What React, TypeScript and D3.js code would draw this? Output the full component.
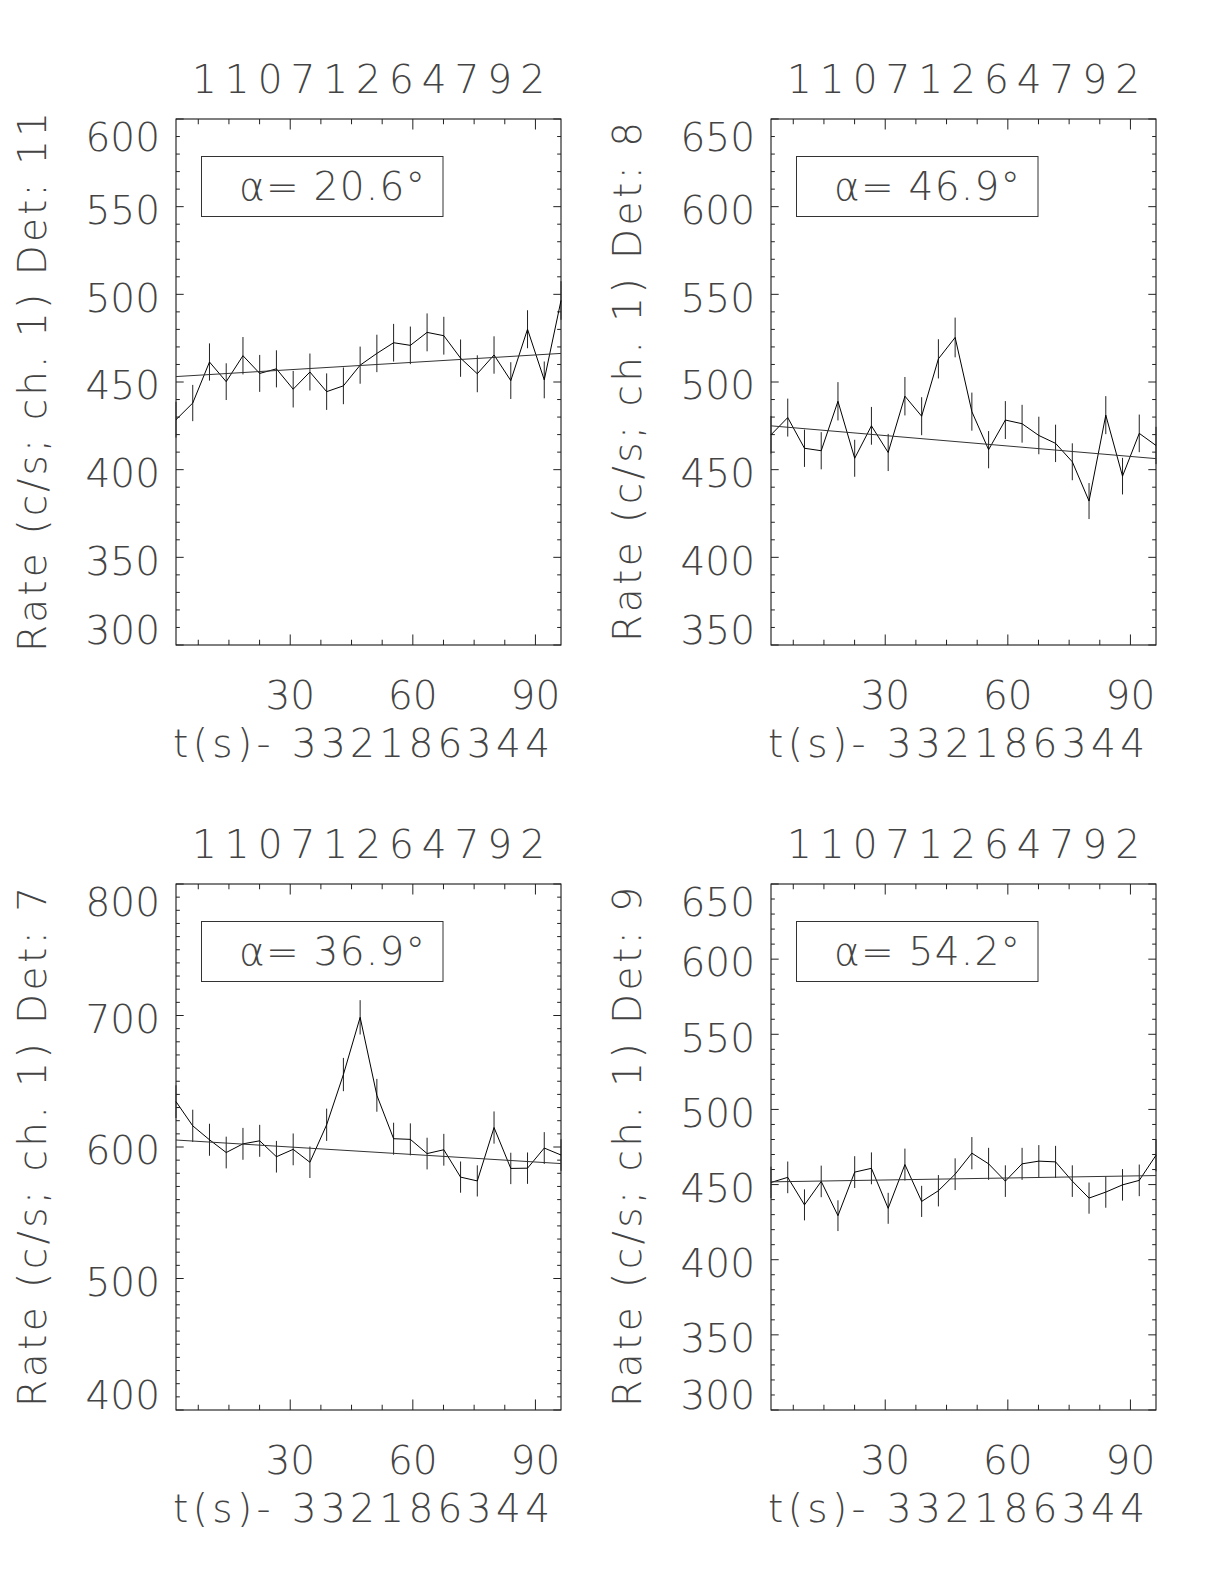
import React from "react";
import * as d3 from "d3";

// ---- data ----
const OBS_ID = "11071264792";
const T0_LABEL = "t(s)- 332186344";
const BIN_WIDTH = 4.096;

const times = [2.048, 6.144, 10.24, 14.336, 18.432, 22.528, 26.624, 30.72, 34.816, 38.912, 43.008, 47.104,
  51.2, 55.296, 59.392, 63.488, 67.584, 71.68, 75.776, 79.872, 83.968, 88.064, 92.16, 96.256];

const det11Rates = [428.5, 438, 461.4, 450.2, 465, 454.9, 457.5, 445.9, 455.7, 444.5, 447.8, 459.6,
  466.3, 472.4, 470.9, 478.3, 476.4, 463.6, 454.7, 465.4, 450.8, 480.1, 451.2, 496.5];
const det11Fit = [453.1, 466.3];

const det8Rates = [469.9, 479.7, 462.2, 460.8, 489, 456.5, 475, 459.8, 491.9, 480.5, 513.2, 525.4,
  483.1, 461.4, 478.3, 476.2, 469.5, 465, 454.5, 432.1, 481.1, 446.3, 470.7, 463.8];
const det8Fit = [475, 456.3];

const det7Rates = [634.5, 616.1, 605.5, 595.8, 602.4, 604.7, 592.6, 598.2, 588.4, 616.9, 655.1, 698.6,
  639.3, 606.3, 605.8, 595, 597.9, 577.1, 574.2, 614.8, 583.7, 583.9, 599.2, 593.9];
const det7Fit = [605.3, 587.4];

const det9Rates = [451.4, 454.8, 436.5, 452.1, 429.3, 458.3, 460.8, 434.2, 463.3, 438.8, 445.9, 456.9,
  470.9, 463.8, 452.3, 463.8, 465.6, 465.1, 452.3, 441, 445, 449.8, 452.8, 469.5];
const det9Fit = [451.8, 456];

const xTicksMajor = [30, 60, 90];
const xTicksMinor = [7.5, 15, 22.5, 37.5, 45, 52.5, 67.5, 75, 82.5];

const det11YTicks = [300, 350, 400, 450, 500, 550, 600];
const det8YTicks = [350, 400, 450, 500, 550, 600, 650];
const det7YTicks = [400, 500, 600, 700, 800];
const det9YTicks = [300, 350, 400, 450, 500, 550, 600, 650];

const panels = [
  { det: "11", alpha: "20.6", rates: det11Rates, fit: det11Fit, yTicks: det11YTicks, minorStep: 10 },
  { det: "8", alpha: "46.9", rates: det8Rates, fit: det8Fit, yTicks: det8YTicks, minorStep: 10 },
  { det: "7", alpha: "36.9", rates: det7Rates, fit: det7Fit, yTicks: det7YTicks, minorStep: 10 },
  { det: "9", alpha: "54.2", rates: det9Rates, fit: det9Fit, yTicks: det9YTicks, minorStep: 10 },
];

// ---- layout ----
const W = 1224, H = 1584;
const PW = 385, PH = 526;
const origins = [[176, 119], [771, 119], [176, 884], [771, 884]];
const FONT = "'DejaVu Sans', sans-serif";
const FS = 39;
const CAP = 0.729 * FS;
const TXT = "#444";

function Panel({ p, ox, oy }: any) {
  const x = d3.scaleLinear().domain([times[0], times[times.length - 1]]).range([ox, ox + PW]);
  const yMin = p.yTicks[0], yMax = p.yTicks[p.yTicks.length - 1];
  const y = d3.scaleLinear().domain([yMin, yMax]).range([oy + PH, oy]);
  const line = d3.line<number>().x((_, i) => x(times[i])).y((d) => y(d));
  const yMinor = d3.range(yMin, yMax + 0.001, p.minorStep).filter((v) => !p.yTicks.includes(v));
  const xMajLen = 0.02 * PH, xMinLen = xMajLen / 2;
  const yMajLen = 0.02 * PW, yMinLen = yMajLen / 2;
  const tickStroke = "#222";
  const txt = { fontFamily: FONT, fontWeight: 200, fontSize: FS, fill: TXT } as any;
  return (
    <g>
      {/* title */}
      <text x={192 + (ox - 176)} y={oy - 26} textLength={353} lengthAdjust="spacing" {...txt}>{OBS_ID}</text>
      {/* frame */}
      <rect x={ox} y={oy} width={PW} height={PH} fill="none" stroke="#000" strokeWidth={1} />
      {/* x ticks */}
      {xTicksMajor.map((t) => (
        <g key={"xm" + t}>
          <line x1={x(t)} x2={x(t)} y1={oy + PH} y2={oy + PH - xMajLen} stroke={tickStroke} strokeWidth={1} />
          <line x1={x(t)} x2={x(t)} y1={oy} y2={oy + xMajLen} stroke={tickStroke} strokeWidth={1} />
          <text x={x(t)} y={oy + PH + 64} textAnchor="middle" {...txt}>{t}</text>
        </g>
      ))}
      {xTicksMinor.map((t) => (
        <g key={"xn" + t}>
          <line x1={x(t)} x2={x(t)} y1={oy + PH} y2={oy + PH - xMinLen} stroke={tickStroke} strokeWidth={1} />
          <line x1={x(t)} x2={x(t)} y1={oy} y2={oy + xMinLen} stroke={tickStroke} strokeWidth={1} />
        </g>
      ))}
      {/* y ticks */}
      {p.yTicks.map((v: number) => {
        const yy = y(v);
        let base = yy + 3 + CAP / 2;
        if (base - CAP < oy + 4) base = oy + 4 + CAP;
        if (base > oy + PH - 1) base = oy + PH - 1;
        return (
          <g key={"ym" + v}>
            <line x1={ox} x2={ox + yMajLen} y1={yy} y2={yy} stroke={tickStroke} strokeWidth={1} />
            <line x1={ox + PW} x2={ox + PW - yMajLen} y1={yy} y2={yy} stroke={tickStroke} strokeWidth={1} />
            <text x={ox - 16} y={base} textAnchor="end" {...txt}>{v}</text>
          </g>
        );
      })}
      {yMinor.map((v: number) => (
        <g key={"yn" + v}>
          <line x1={ox} x2={ox + yMinLen} y1={y(v)} y2={y(v)} stroke={tickStroke} strokeWidth={1} />
          <line x1={ox + PW} x2={ox + PW - yMinLen} y1={y(v)} y2={y(v)} stroke={tickStroke} strokeWidth={1} />
        </g>
      ))}
      {/* axis titles */}
      <text x={173 + (ox - 176)} y={oy + PH + 112} textLength={377} lengthAdjust="spacing" {...txt}>{T0_LABEL}</text>
      <text transform={`translate(${ox - 130},${oy + PH / 2}) rotate(-90)`} textAnchor="middle"
        textLength={p.det.length > 1 ? 540 : 520} lengthAdjust="spacing" {...txt}>{`Rate (c/s; ch. 1) Det: ${p.det}`}</text>
      {/* alpha box */}
      <rect x={ox + 25.5} y={oy + 37.5} width={241.5} height={60} fill="none" stroke="#333" strokeWidth={1} />
      <text x={ox + 63} y={oy + 81} textLength={186} lengthAdjust="spacing" {...txt}>
        <tspan>α</tspan>{`= ${p.alpha}°`}
      </text>
      {/* error bars */}
      {p.rates.map((r: number, i: number) => {
        const e = Math.sqrt(r / BIN_WIDTH);
        return <line key={"e" + i} x1={x(times[i])} x2={x(times[i])} y1={y(r - e)} y2={y(r + e)}
          stroke="#222" strokeWidth={1} />;
      })}
      {/* data */}
      <path d={line(p.rates) || ""} fill="none" stroke="#000" strokeWidth={1} />
      {/* fit */}
      <line x1={x(times[0])} x2={x(times[times.length - 1])} y1={y(p.fit[0])} y2={y(p.fit[1])}
        stroke="#333" strokeWidth={1} />
    </g>
  );
}

export default function App() {
  return (
    <svg width={W} height={H} style={{ position: "absolute", left: 0, top: 0, background: "#fff" }}>
      <rect x={0} y={0} width={W} height={H} fill="#fff" />
      {panels.map((p, i) => (
        <Panel key={i} p={p} ox={origins[i][0]} oy={origins[i][1]} />
      ))}
    </svg>
  );
}
